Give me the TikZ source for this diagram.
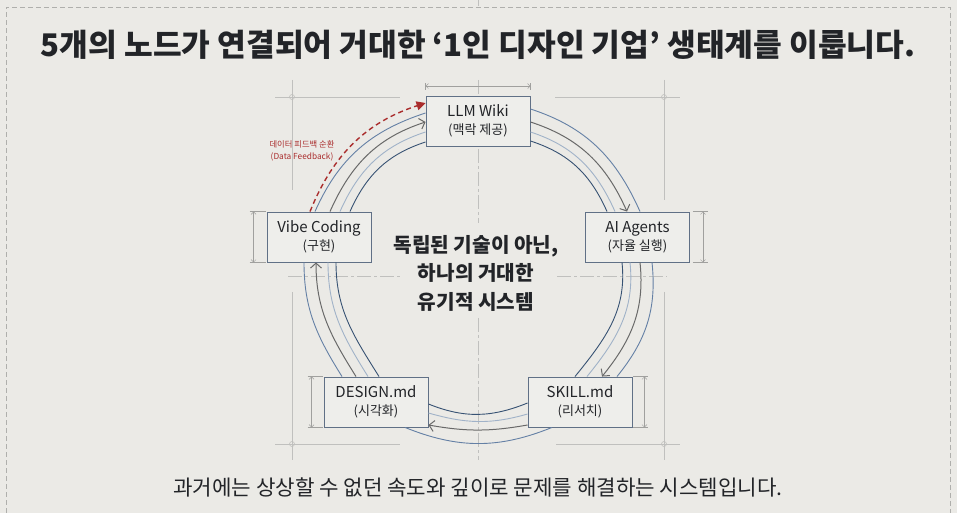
\documentclass[tikz,border=0pt]{standalone}
\usepackage{fontspec}
\setmainfont{Noto Sans CJK KR}
\newfontfamily\titlefont{Noto Sans CJK KR Black}
\usetikzlibrary{arrows.meta}
\definecolor{bg}{RGB}{235,234,230}
\definecolor{boxfill}{RGB}{238,238,235}
\definecolor{boxline}{RGB}{96,112,134}
\definecolor{ringouter}{RGB}{100,128,165}
\definecolor{ringgrey}{RGB}{105,105,105}
\definecolor{ringlight}{RGB}{160,178,200}
\definecolor{ringdark}{RGB}{55,82,115}
\definecolor{gridc}{RGB}{192,192,190}
\definecolor{dimc}{RGB}{160,160,158}
\definecolor{borderc}{RGB}{175,175,172}
\definecolor{redc}{RGB}{170,45,45}
\definecolor{textc}{RGB}{34,36,40}
\newcommand{\subline}[1]{{\fontsize{13}{18}\selectfont #1}}
\begin{document}
\begin{tikzpicture}[x=1pt,y=1pt,
  nodebox/.style={draw=boxline, line width=0.9pt, fill=boxfill, minimum width=104pt, minimum height=50pt, inner sep=0pt, align=center, text=textc, font=\fontsize{15}{18}\selectfont},
  gridline/.style={draw=gridc, line width=0.6pt},
  centerline/.style={draw=gridc, line width=0.6pt, dash pattern=on 14pt off 3pt on 3pt off 3pt},
  dimarrow/.style={draw=dimc, line width=0.5pt, {Straight Barb[length=2.5pt,width=5pt]}-{Straight Barb[length=2.5pt,width=5pt]}},
  dimtick/.style={draw=dimc, line width=0.5pt},
  ringo/.style={draw=ringouter, line width=0.9pt},
  ringg/.style={draw=ringgrey, line width=1pt, -{Straight Barb[length=5pt,width=11pt]}},
  ringl/.style={draw=ringlight, line width=0.9pt},
  ringd/.style={draw=ringdark, line width=0.9pt},
  feedback/.style={draw=redc, line width=1.4pt, dash pattern=on 5pt off 3.5pt, -{Triangle[length=9pt,width=9pt]}}
]
% background and frame
\fill[bg] (0,0) rectangle (957,513);
\useasboundingbox (0,0) rectangle (957,513);
\draw[borderc, line width=0.6pt, dash pattern=on 5pt off 3pt] (6,0) -- (6,506) -- (950,506) -- (950,0);
\draw[gridline] (478,513) -- (478,507);

% construction grid
\draw[gridline] (292,433) -- (292,323);
\draw[gridline] (275,416) -- (400,416);
\draw[gridline] (292,416) circle (2.5pt);
\draw[gridline] (664,433) -- (664,313);
\draw[gridline] (555,416) -- (680,416);
\draw[gridline] (664,416) circle (2.5pt);
\draw[gridline] (292,221) -- (292,53);
\draw[gridline] (275,69) -- (400,69);
\draw[gridline] (292,69) circle (2.5pt);
\draw[gridline] (664,221) -- (664,53);
\draw[gridline] (556,69) -- (680,69);
\draw[gridline] (664,69) circle (2.5pt);
\draw[centerline] (478,433) -- (478,290);
\draw[centerline] (478,195) -- (478,53);
\draw[centerline] (288,237) -- (400,237);
\draw[centerline] (557,237) -- (667,237);

% nodes
\node[nodebox] (llm) at (478,392) {LLM Wiki\\\subline{(맥락 제공)}};
\node[nodebox] (ai) at (637.5,276) {AI Agents\\\subline{(자율 실행)}};
\node[nodebox] (vibe) at (319,276) {Vibe Coding\\\subline{(구현)}};
\node[nodebox] (design) at (376,111) {DESIGN.md\\\subline{(시각화)}};
\node[nodebox] (skill) at (580,111) {SKILL.md\\\subline{(리서치)}};

% dimension marks
\draw[dimarrow] ([xshift=-13pt]vibe.north west) -- ([xshift=-13pt]vibe.south west);
\draw[dimtick] ([xshift=-17pt]vibe.north west) -- ([xshift=-1pt]vibe.north west);
\draw[dimtick] ([xshift=-17pt]vibe.south west) -- ([xshift=-1pt]vibe.south west);
\draw[dimarrow] ([xshift=13pt]ai.north east) -- ([xshift=13pt]ai.south east);
\draw[dimtick] ([xshift=3pt]ai.north east) -- ([xshift=18pt]ai.north east);
\draw[dimtick] ([xshift=3pt]ai.south east) -- ([xshift=18pt]ai.south east);
\draw[dimarrow] ([xshift=-12pt]design.north west) -- ([xshift=-12pt]design.south west);
\draw[dimtick] ([xshift=-16pt]design.north west) -- ([xshift=-1pt]design.north west);
\draw[dimtick] ([xshift=-16pt]design.south west) -- ([xshift=-1pt]design.south west);
\draw[dimarrow] ([xshift=12pt]skill.north east) -- ([xshift=12pt]skill.south east);
\draw[dimtick] ([xshift=1pt]skill.north east) -- ([xshift=16pt]skill.north east);
\draw[dimtick] ([xshift=1pt]skill.south east) -- ([xshift=16pt]skill.south east);
\draw[dimarrow] ([yshift=9.5pt]llm.north west) -- ([yshift=9.5pt]llm.north east);
\draw[dimtick] ([yshift=6pt]llm.north west) -- ([yshift=13pt]llm.north west);
\draw[dimtick] ([yshift=6pt]llm.north east) -- ([yshift=13pt]llm.north east);

% ring: Vibe -> LLM
\draw[ringo] ([xshift=-4pt]vibe.north) to[out=66,in=198] ([yshift=8pt]llm.west);
\draw[ringg] ([xshift=11pt]vibe.north) to[out=66,in=198] ([yshift=-1pt]llm.west);
\draw[ringl] ([xshift=21pt]vibe.north) to[out=66,in=198] ([yshift=-11pt]llm.west);
\draw[ringd] ([xshift=31pt]vibe.north) to[out=66,in=198] ([yshift=-21pt]llm.west);
% ring: LLM -> AI
\draw[ringo] ([yshift=12pt]llm.east) to[out=-18,in=114] ([xshift=2.5pt]ai.north);
\draw[ringg] ([yshift=-1pt]llm.east) to[out=-18,in=114] ([xshift=-10.5pt]ai.north);
\draw[ringl] ([yshift=-11pt]llm.east) to[out=-18,in=114] ([xshift=-22.5pt]ai.north);
\draw[ringd] ([yshift=-20pt]llm.east) to[out=-18,in=114] ([xshift=-30.5pt]ai.north);
% ring: AI -> SKILL
\draw[ringo] ([xshift=14.5pt]ai.south) to[out=-84,in=51] ([xshift=37pt]skill.north);
\draw[ringg] ([xshift=2.5pt]ai.south) to[out=-84,in=51] ([xshift=22pt]skill.north);
\draw[ringl] ([xshift=-7.5pt]ai.south) to[out=-84,in=51] ([xshift=7pt]skill.north);
\draw[ringd] ([xshift=-15.5pt]ai.south) to[out=-84,in=51] ([xshift=-5pt]skill.north);
% ring: SKILL -> DESIGN
\draw[ringo] ([xshift=-28pt]skill.south) to[out=202,in=338] ([xshift=29pt]design.south);
\draw[ringg] ([yshift=-23pt]skill.west) to[out=190,in=350] ([yshift=-23pt]design.east);
\draw[ringl] ([yshift=-12pt]skill.west) to[out=196,in=344] ([yshift=-11pt]design.east);
\draw[ringd] ([yshift=-1pt]skill.west) to[out=202,in=338] ([yshift=-2pt]design.east);
% ring: DESIGN -> Vibe
\draw[ringo] ([xshift=-34pt]design.north) to[out=122,in=270] ([xshift=-15pt]vibe.south);
\draw[ringg] ([xshift=-20pt]design.north) to[out=122,in=270] ([xshift=-3pt]vibe.south);
\draw[ringl] ([xshift=-8pt]design.north) to[out=122,in=270] ([xshift=9pt]vibe.south);
\draw[ringd] ([xshift=3pt]design.north) to[out=122,in=270] ([xshift=17pt]vibe.south);

% data feedback loop
\draw[feedback] ([xshift=-9pt]vibe.north) to[out=68,in=198] ([yshift=18pt]llm.west);
\node[font=\fontsize{8.3}{12}\selectfont, text=redc, align=center] (fb) at (302,362) {데이터 피드백 순환\\(Data Feedback)};

% texts
\node[font=\titlefont\fontsize{31.2}{36}\selectfont, text=textc] (title) at (478,468) {5개의 노드가 연결되어 거대한 ‘1인 디자인 기업’ 생태계를 이룹니다.};
\node[font=\fontsize{20.2}{28.5}\selectfont\bfseries, text=textc, align=center] (core) at (476,240) {독립된 기술이 아닌,\\하나의 거대한\\유기적 시스템};
\node[font=\fontsize{21.2}{24}\selectfont, text=textc] (bottom) at (478,26) {과거에는 상상할 수 없던 속도와 깊이로 문제를 해결하는 시스템입니다.};
\end{tikzpicture}
\end{document}
